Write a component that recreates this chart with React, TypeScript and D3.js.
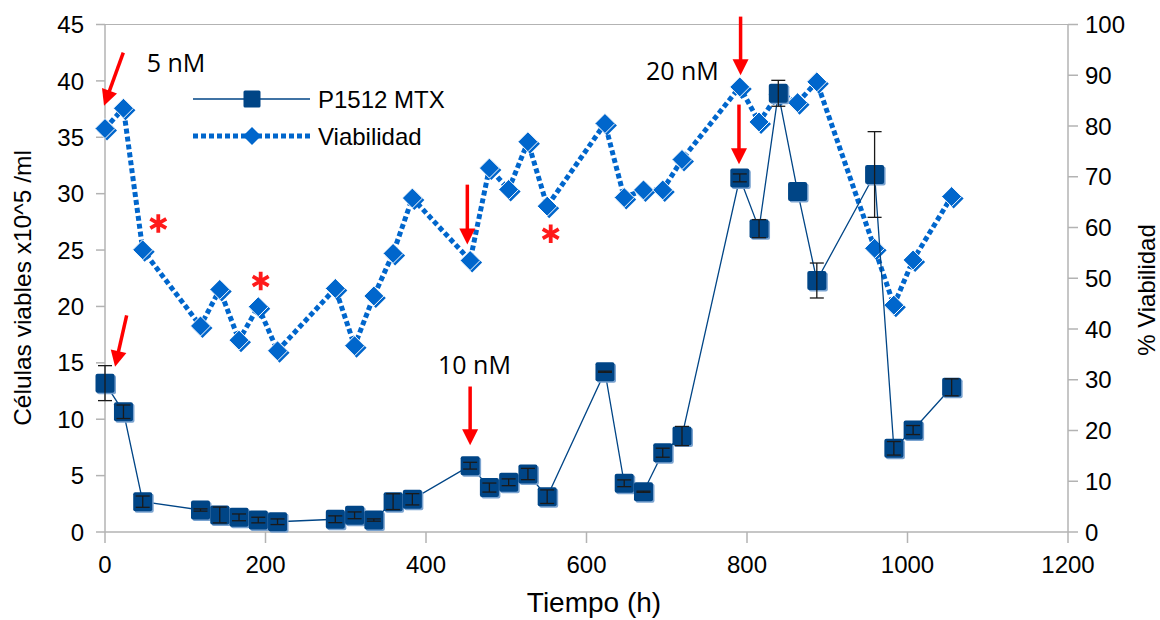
import React from 'react';
import * as d3 from 'd3';

// ---- data ----
const hours = [0, 23, 47, 119, 143, 167, 191, 215, 287, 311, 335, 359, 383, 455, 479, 503, 527, 551, 623, 647, 671, 695, 719, 791, 815, 839, 863, 887, 959, 983, 1007, 1055];
const cells = [13.2, 10.66, 2.69, 1.95, 1.51, 1.3, 1.06, 0.91, 1.13, 1.48, 1.06, 2.69, 2.9, 5.88, 3.94, 4.41, 5.14, 3.13, 14.21, 4.32, 3.57, 7.03, 8.51, 31.4, 26.9, 38.9, 30.2, 22.3, 31.7, 7.42, 9.04, 12.83];
const cellsErr = [1.55, 0.6, 0.5, 0.1, 0.7, 0.3, 0.25, 0.25, 0.3, 0.3, 0.1, 0.7, 0.5, 0.3, 0.4, 0.3, 0.5, 0.6, 0.05, 0.3, 0.05, 0.4, 0.85, 0.35, 0.8, 1.15, 0, 1.55, 3.8, 0.6, 0.4, 0.75];
const viability = [79.5, 83.5, 55.6, 40.6, 47.8, 37.8, 44.4, 35.7, 48.0, 36.7, 46.5, 54.9, 65.8, 53.5, 71.7, 67.5, 76.9, 64.2, 80.5, 65.9, 67.4, 67.4, 73.4, 87.7, 80.8, 86.2, 84.6, 88.7, 55.9, 44.7, 53.6, 66.1];

const xTicks = [0, 200, 400, 600, 800, 1000, 1200];
const yLeftTicks = [0, 5, 10, 15, 20, 25, 30, 35, 40, 45];
const yRightTicks = [0, 10, 20, 30, 40, 50, 60, 70, 80, 90, 100];

const seriesNames = ['P1512 MTX', 'Viabilidad'];

// annotations in data units (hours, left-axis value)
const arrows = [
  { x1: 22.8, y1: 42.5, x2: -1.2, y2: 37.8 },
  { x1: 27, y1: 19.2, x2: 12.5, y2: 14.65 },
  { x1: 455, y1: 12.9, x2: 455, y2: 7.7 },
  { x1: 451.5, y1: 30.8, x2: 451.5, y2: 25.5 },
  { x1: 792, y1: 45.7, x2: 792, y2: 40.5 },
  { x1: 790, y1: 37.9, x2: 790, y2: 32.6 },
];
const doseLabels = [
  { t: 52, v: 40.8, text: '5 nM' },
  { t: 415, v: 14.0, text: '10 nM' },
  { t: 674, v: 40.1, text: '20 nM' },
];
const asterisks = [
  { t: 66.4, v: 27.35 },
  { t: 194, v: 22.25 },
  { t: 555.4, v: 26.45 },
];

const W = 1160;
const H = 620;
const AX = '#b3b3b3';
const SQ = '#004586';
const DI = '#0066cc';
const FONT = '"Liberation Sans", Arial, sans-serif';

export default function App() {
  const x = d3.scaleLinear().domain([0, 1200]).range([105, 1068]);
  const yL = d3.scaleLinear().domain([0, 45]).range([532, 24.5]);
  const yR = d3.scaleLinear().domain([0, 100]).range([532, 24.5]);

  const cellPts = hours.map((h, i) => ({ h, v: cells[i], e: cellsErr[i] }));
  const viaPts = hours.map((h, i) => ({ h, p: viability[i] }));

  const cellLine = d3.line<any>().x((d) => x(d.h)).y((d) => yL(d.v))(cellPts) || '';
  const viaLine = d3.line<any>().x((d) => x(d.h)).y((d) => yR(d.p))(viaPts) || '';

  const sq = 19;
  const dh = 10;
  const diamond = (cx: number, cy: number, r: number) => `M${cx},${cy - r}L${cx + r},${cy}L${cx},${cy + r}L${cx - r},${cy}Z`;

  const arrowEl = (a: any, i: number) => {
    const sx = x(a.x1), sy = yL(a.y1), ex = x(a.x2), ey = yL(a.y2);
    const ang = Math.atan2(ey - sy, ex - sx);
    const hl = 16, hw = 8;
    const bx = ex - hl * Math.cos(ang), by = ey - hl * Math.sin(ang);
    const px = -Math.sin(ang) * hw, py = Math.cos(ang) * hw;
    return (
      <g key={'ar' + i}>
        <line x1={sx} y1={sy} x2={bx + Math.cos(ang)} y2={by + Math.sin(ang)} stroke="#ff0000" strokeWidth={3.5} />
        <path d={`M${ex},${ey}L${bx + px},${by + py}L${bx - px},${by - py}Z`} fill="#ff0000" />
      </g>
    );
  };

  const asteriskEl = (a: any, i: number) => {
    const cx = x(a.t), cy = yL(a.v);
    const r = 9.2;
    const segs = [90, 30, 150].map((deg) => {
      const rad = (deg * Math.PI) / 180;
      return `M${cx - r * Math.cos(rad)},${cy - r * Math.sin(rad)}L${cx + r * Math.cos(rad)},${cy + r * Math.sin(rad)}`;
    });
    return <path key={'as' + i} d={segs.join('')} stroke="#ff1a1a" strokeWidth={3.8} fill="none" />;
  };

  return (
    <svg width={W} height={H} style={{ position: 'absolute', left: 0, top: 0, background: '#fff' }} fontFamily={FONT}>
      <rect x={0} y={0} width={W} height={H} fill="#fff" />
      {/* frame / axes */}
      <line x1={x(0)} x2={x(1200)} y1={yL(45)} y2={yL(45)} stroke={AX} strokeWidth={1.2} />
      <line x1={x(0)} x2={x(1200)} y1={yL(0)} y2={yL(0)} stroke={AX} strokeWidth={1.5} />
      <line x1={x(0)} x2={x(0)} y1={yL(0)} y2={yL(45)} stroke={AX} strokeWidth={1.5} />
      <line x1={x(1200)} x2={x(1200)} y1={yL(0)} y2={yL(45)} stroke={AX} strokeWidth={1.5} />

      {xTicks.map((t) => (
        <g key={'xt' + t}>
          <line x1={x(t)} x2={x(t)} y1={yL(0)} y2={yL(0) + 11} stroke={AX} strokeWidth={1.5} />
          <text x={x(t)} y={573} textAnchor="middle" fontSize={24} fill="#000">{t}</text>
        </g>
      ))}
      {yLeftTicks.map((t) => (
        <g key={'yl' + t}>
          <line x1={x(0) - 9} x2={x(0)} y1={yL(t)} y2={yL(t)} stroke={AX} strokeWidth={1.5} />
          <text x={84} y={yL(t)} dy="0.36em" textAnchor="end" fontSize={24} fill="#000">{t}</text>
        </g>
      ))}
      {yRightTicks.map((t) => (
        <g key={'yr' + t}>
          <line x1={x(1200)} x2={x(1200) + 10} y1={yR(t)} y2={yR(t)} stroke={AX} strokeWidth={1.5} />
          <text x={1085} y={yR(t)} dy="0.36em" textAnchor="start" fontSize={24} fill="#000">{t}</text>
        </g>
      ))}

      <text x={594} y={612} textAnchor="middle" fontSize={28} fill="#000">Tiempo (h)</text>
      <text transform="translate(31,288) rotate(-90)" textAnchor="middle" fontSize={24.5} fill="#000">Células viables x10^5 /ml</text>
      <text transform="translate(1155,290) rotate(-90)" textAnchor="middle" fontSize={24} fill="#000">% Viabilidad</text>

      {/* viability series */}
      <path d={viaLine} fill="none" stroke={DI} strokeWidth={5} strokeDasharray="5 3" />
      {viaPts.map((d, i) => (
        <g key={'d' + i}>
          <path d={diamond(x(d.h) + 2, yR(d.p) + 2, dh)} fill={DI} />
          <path d={diamond(x(d.h), yR(d.p), dh)} fill={DI} stroke="#fff" strokeWidth={1} />
        </g>
      ))}

      {/* cells series */}
      <path d={cellLine} fill="none" stroke={SQ} strokeWidth={1.3} />
      {cellPts.map((d, i) => (
        <g key={'s' + i}>
          <rect x={x(d.h) - sq / 2 + 1.5} y={yL(d.v) - sq / 2 + 1.5} width={sq} height={sq} rx={2} fill="#7aa3d0" />
          <rect x={x(d.h) - sq / 2} y={yL(d.v) - sq / 2} width={sq} height={sq} rx={2} fill={SQ} />
        </g>
      ))}
      {cellPts.map((d, i) =>
        d.e > 0 ? (
          <g key={'e' + i} stroke="#1a1a1a" strokeWidth={1.3}>
            <line x1={x(d.h)} x2={x(d.h)} y1={yL(d.v - d.e)} y2={yL(d.v + d.e)} />
            <line x1={x(d.h) - 7} x2={x(d.h) + 7} y1={yL(d.v - d.e)} y2={yL(d.v - d.e)} />
            <line x1={x(d.h) - 7} x2={x(d.h) + 7} y1={yL(d.v + d.e)} y2={yL(d.v + d.e)} />
          </g>
        ) : null
      )}

      {/* annotations */}
      {arrows.map(arrowEl)}
      {asterisks.map(asteriskEl)}
      {doseLabels.map((l, i) => (
        <text key={'dl' + i} x={x(l.t)} y={yL(l.v)} fontSize={25} fontFamily='"Open Sans", "Noto Sans", sans-serif' fill="#000">{l.text}</text>
      ))}

      {/* legend */}
      <g>
        <line x1={193} x2={310} y1={99} y2={99} stroke={SQ} strokeWidth={1.3} />
        <rect x={252 - 8.5} y={99 - 8.5} width={17} height={17} rx={1.5} fill={SQ} />
        <text x={318} y={99} dy="0.36em" fontSize={24} fill="#000">{seriesNames[0]}</text>
        <line x1={193} x2={310} y1={136} y2={136} stroke={DI} strokeWidth={5} strokeDasharray="5 3" />
        <path d={diamond(252, 136, 9)} fill={DI} />
        <text x={318} y={136} dy="0.36em" fontSize={24} fill="#000">{seriesNames[1]}</text>
      </g>
    </svg>
  );
}
